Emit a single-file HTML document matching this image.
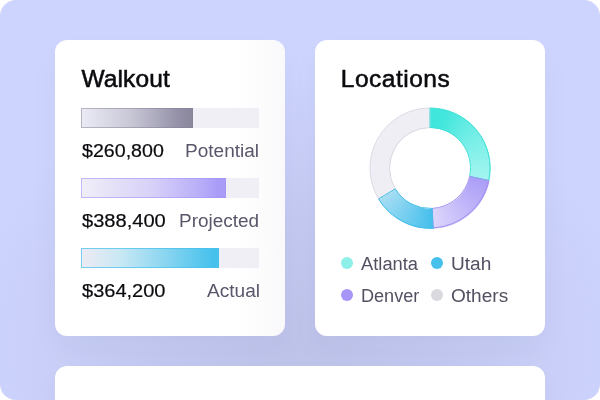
<!DOCTYPE html>
<html><head><meta charset="utf-8">
<style>
*{margin:0;padding:0;box-sizing:border-box}
html,body{width:600px;height:400px;overflow:hidden;background:#fff}
body{font-family:"Liberation Sans",Arial,sans-serif;position:relative}
.bg{position:absolute;left:0;top:0;width:600px;height:400px;border-radius:16px;overflow:hidden;background:radial-gradient(ellipse 340px 270px at 300px 345px, #bec3ea 0%, #c4c9f1 45%, #cdd4fd 100%), #cdd4fd}
.card{position:absolute;background:#fff;border-radius:12px;box-shadow:0 14px 30px rgba(40,45,90,.035)}
.c1{left:55px;top:40px;width:230px;height:296px;background:linear-gradient(90deg,#fff 78%,#f9f9fb)}
.c2{left:315px;top:40px;width:230px;height:296px}
.c3{left:55px;top:366px;width:490px;height:80px}
.title{-webkit-text-stroke:0.55px #0b0b0f;position:absolute;left:26.5px;top:26.7px;font-size:24.5px;color:#0b0b0f;line-height:1;white-space:nowrap}
.track{position:absolute;left:26px;width:178px;height:20px;background:#f0eff5}
.fill{position:absolute;left:0;top:0;height:20px}
.f1{width:112px;background:linear-gradient(90deg,#ebebf6 0%,#c8c7d6 45%,#928fa6 88%,#8a879d 100%);box-shadow:inset 0 0 0 1px rgba(130,127,150,.5)}
.f2{width:145px;background:linear-gradient(90deg,#f0eff7 0%,#d6d0f8 50%,#b8aef8 82%,#a99cf7 94%);box-shadow:inset 0 0 0 1px rgba(165,148,246,.6)}
.f3{width:138px;background:linear-gradient(90deg,#eeebf3 0%,#c9e8f4 28%,#8cd6f1 60%,#45c1ec 96%);box-shadow:inset 0 0 0 1px rgba(69,192,236,.7)}
.amt{-webkit-text-stroke:0.2px #0b0b0f;position:absolute;transform-origin:0 0;left:27px;font-size:18px;color:#0b0b0f;line-height:1;white-space:nowrap}
.lbl{position:absolute;transform-origin:100% 0;right:27px;font-size:18px;color:#58576a;line-height:1;white-space:nowrap}
.leg{position:absolute;transform-origin:0 0;font-size:18px;color:#525162;line-height:1;white-space:nowrap}
.dot{position:absolute;width:12px;height:12px;border-radius:50%}
.ring{position:absolute;left:54.5px;top:67.5px;width:121px;height:121px;border-radius:50%;
 background:conic-gradient(#3ee6dc 0deg,#42e6dc 14deg,#74eee7 52deg,#a4f5f0 102deg,#ab9ef7 102deg,#c3b8f9 140deg,#ddd6fb 177deg,#44bfec 177deg,#a6ddf3 239deg,#efeef4 239deg,#efeef4 360deg);
 -webkit-mask:radial-gradient(circle closest-side,transparent 40px,#000 40.6px);mask:radial-gradient(circle closest-side,transparent 40px,#000 40.6px)}
</style></head><body>
<div class="bg">
 <div class="card c1">
  <div class="title" style="letter-spacing:0.1px">Walkout</div>
  <div class="track" style="top:68px"><div class="fill f1"></div></div>
  <div class="amt" style="top:102.4px;transform:scaleX(1.09)">$260,800</div>
  <div class="lbl" style="top:101.5px;transform:scaleX(1.056);right:25.5px">Potential</div>
  <div class="track" style="top:138px"><div class="fill f2"></div></div>
  <div class="amt" style="top:172.2px;transform:scaleX(1.115)">$388,400</div>
  <div class="lbl" style="top:171.7px;transform:scaleX(1.052);right:25.5px">Projected</div>
  <div class="track" style="top:208px"><div class="fill f3"></div></div>
  <div class="amt" style="top:242.2px;transform:scaleX(1.112)">$364,200</div>
  <div class="lbl" style="top:241.7px;transform:scaleX(1.06);right:25px">Actual</div>
 </div>
 <div class="card c2">
  <div class="title" style="left:25.8px;letter-spacing:0.5px">Locations</div>
  <div class="ring"></div>
  <svg style="position:absolute;left:0;top:0" width="230" height="296" viewBox="0 0 230 296" fill="none" stroke-width="1">
   <path stroke="#dcdae4" d="M63.57 158.90A60 60 0 0 1 115.00 68.00L115.00 87.50A40.5 40.5 0 0 0 80.28 148.86Z"/>
   <path stroke="#42e0d6" d="M115.00 68.00A60 60 0 0 1 173.69 140.47L154.61 136.42A40.5 40.5 0 0 0 115.00 87.50Z"/>
   <path stroke="#a58ff3" d="M173.69 140.47A60 60 0 0 1 118.14 187.92L117.12 168.44A40.5 40.5 0 0 0 154.61 136.42Z"/>
   <path stroke="#44bfec" d="M118.14 187.92A60 60 0 0 1 63.57 158.90L80.28 148.86A40.5 40.5 0 0 0 117.12 168.44Z"/>
  </svg>
  <div class="dot" style="left:26px;top:216.6px;background:#8eefe9"></div>
  <div class="leg" style="left:46px;top:215px;transform:scaleX(1.018)">Atlanta</div>
  <div class="dot" style="left:116px;top:216.6px;background:#46c1ec"></div>
  <div class="leg" style="left:135.5px;top:215px;transform:scaleX(1.06)">Utah</div>
  <div class="dot" style="left:26px;top:248.6px;background:#a795f8"></div>
  <div class="leg" style="left:45.5px;top:247.1px;transform:scaleX(1.005)">Denver</div>
  <div class="dot" style="left:116px;top:248.6px;background:#d9d9df"></div>
  <div class="leg" style="left:136.2px;top:247.1px;transform:scaleX(1.058)">Others</div>
 </div>
 <div class="card c3"></div>
</div>
</body></html>
